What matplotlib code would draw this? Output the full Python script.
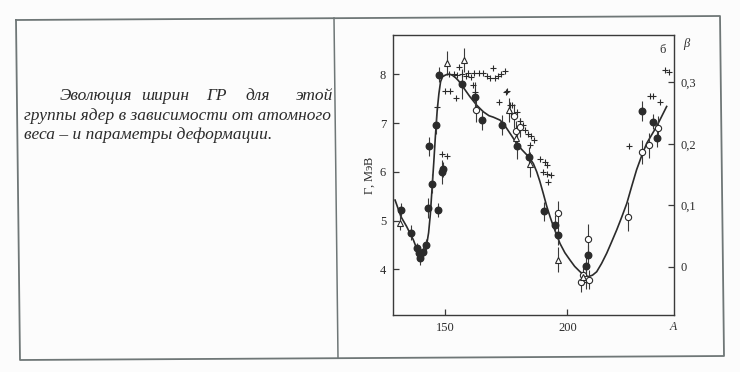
import matplotlib
matplotlib.use("Agg")
import matplotlib.pyplot as plt
from matplotlib.lines import Line2D

plt.rcParams["mathtext.fontset"] = "custom"
plt.rcParams["mathtext.rm"] = "Liberation Serif"
plt.rcParams["mathtext.it"] = "Liberation Serif:italic"

# ---------------- data ----------------
curve_A = [129.6, 132, 134.3, 137.1, 139, 140.2, 141.3, 142.5, 143.3, 144, 144.7, 145.4,
           146.1, 146.8, 147.5, 148.2, 149, 150, 151, 152, 153, 154.1, 155.5, 156.8,
           158.5, 160.2, 162.9, 165.7, 168, 169.8, 172.5, 174, 175.5, 177.5, 179.3,
           181.5, 183.4, 185, 186.1, 187.5, 188.8, 190.2, 191.6, 193, 194.3, 195.7,
           197, 199, 201.1, 203, 205.2, 207, 208.6, 210.3, 212, 214, 216.1, 218,
           220.2, 222.3, 224.3, 226.3, 228.3, 230.4, 232.4, 234.5, 236.5, 238.5, 240.6]
curve_G = [5.42, 5.08, 4.88, 4.6, 4.35, 4.24, 4.28, 4.5, 4.75, 5.12, 5.65, 6.18,
           6.75, 7.25, 7.6, 7.85, 7.95, 7.98, 8.0, 8.0, 7.98, 7.94, 7.87, 7.78,
           7.66, 7.54, 7.37, 7.23, 7.15, 7.12, 7.06, 6.98, 6.87, 6.72, 6.58,
           6.45, 6.35, 6.25, 6.17, 6.0, 5.8, 5.55, 5.29, 5.07, 4.88, 4.7,
           4.53, 4.34, 4.19, 4.06, 3.95, 3.88, 3.85, 3.88, 3.95, 4.12, 4.33, 4.55,
           4.81, 5.08, 5.35, 5.7, 6.04, 6.33, 6.58, 6.76, 6.93, 7.13, 7.34]

filled_A = [132.0, 136.1, 138.4, 139.2, 139.9, 141.1, 142.1, 142.9, 143.5, 144.7, 146.5,
            147.0, 147.7, 148.6, 149.2, 156.8, 162.3, 165.3, 173.4, 179.3, 184.5, 190.6,
            195.0, 196.1, 207.5, 208.6, 230.7, 235.1, 236.5]
filled_G = [5.22, 4.75, 4.43, 4.34, 4.23, 4.36, 4.50, 5.26, 6.52, 5.76, 6.97,
            5.22, 7.99, 6.00, 6.05, 7.80, 7.54, 7.06, 6.96, 6.52, 6.31, 5.19,
            4.91, 4.70, 4.07, 4.29, 7.25, 7.03, 6.70]
filled_err = [0.15, 0.15, 0.12, 0.12, 0.15, 0.12, 0.12, 0.2, 0.2, 0.2, 0.2,
              0.15, 0.15, 0.25, 0.15, 0.3, 0.3, 0.2, 0.2, 0.25, 0.2, 0.2,
              0.2, 0.2, 0.2, 0.2, 0.2, 0.15, 0.2]

open_A = [162.7, 178.2, 179.0, 180.8, 196.1, 208.6, 205.5, 206.5, 207.6, 208.9,
          224.9, 230.4, 233.4, 237.2]
open_G = [7.27, 7.15, 6.84, 6.91, 5.16, 4.62, 3.74, 3.88, 3.80, 3.79,
          5.08, 6.40, 6.54, 6.90]
open_err = [0.25, 0.25, 0.2, 0.2, 0.25, 0.3, 0.2, 0.2, 0.2, 0.2,
            0.3, 0.25, 0.25, 0.25]

tri_A = [131.6, 151.0, 157.9, 176.3, 179.0, 184.6, 196.3, 206.5]
tri_G = [4.96, 8.23, 8.29, 7.27, 6.69, 6.15, 4.20, 3.84]
tri_err = [0.15, 0.25, 0.25, 0.25, 0.2, 0.25, 0.25, 0.15]

cross_A = [146.9, 150.2, 152.0, 148.7, 150.7, 154.3, 155.7,
           151.5, 153.5, 155.0, 156.8, 158.5, 159.5, 160.8, 162.0, 163.8, 165.5,
           167.0, 168.5, 169.5, 170.5, 171.8, 173.0, 174.5,
           161.5, 162.2, 174.8, 175.5, 172.2, 176.5, 177.2, 176.8, 179.5,
           180.5, 181.8, 182.5, 183.8, 185.0, 186.3, 184.7, 188.8, 190.9, 191.6,
           190.2, 191.8, 193.2, 192.2, 225.3, 233.8, 235.2, 237.9, 240.0, 241.7]
cross_G = [7.33, 7.66, 7.66, 6.36, 6.32, 7.52, 8.15,
           8.0, 8.0, 7.98, 8.0, 7.97, 8.02, 7.95, 8.02, 8.02, 8.03,
           7.97, 7.93, 8.12, 7.93, 7.97, 8.0, 8.06,
           7.78, 7.64, 7.64, 7.66, 7.43, 7.37, 7.37, 7.2, 7.22,
           7.05, 6.95, 6.85, 6.78, 6.74, 6.65, 6.55, 6.26, 6.21, 6.14,
           6.0, 5.95, 5.93, 5.8, 6.52, 7.55, 7.56, 7.44, 8.08, 8.05]

left_ticks = [4, 5, 6, 7, 8]
bottom_ticks = [150, 200]
beta_ticks = [0, 0.1, 0.2, 0.3]
beta_labels = ["0", "0,1", "0,2", "0,3"]

line1_words = ["Эволюция", "ширин", "ГР", "для", "этой"]
line2 = "группы ядер в зависимости от атомного"
line3 = "веса – и параметры деформации."

# ---------------- figure ----------------
W, H = 740, 372
fig = plt.figure(figsize=(W / 100, H / 100), dpi=100)
fig.patch.set_facecolor("#fcfcfc")
serif = ["Liberation Serif", "DejaVu Serif"]
ink = "#2b2b2b"

def fx(x):
    return x / W

def fy(y):
    return 1 - y / H

# outer frame and divider
frame_c = "#6f7777"
corners = [(16, 20), (720, 16), (724, 356), (20, 360), (16, 20)]
fig.add_artist(Line2D([fx(p[0]) for p in corners], [fy(p[1]) for p in corners],
                      color=frame_c, lw=1.3, transform=fig.transFigure))
fig.add_artist(Line2D([fx(334), fx(338)], [fy(18), fy(358)],
                      color=frame_c, lw=1.1, transform=fig.transFigure))

# paragraph text
probe = fig.text(fx(24), fy(116), line2, fontsize=10, family=serif, style="italic")
fig.canvas.draw()
w = probe.get_window_extent().width
fs = 10 * 306 / w
probe.remove()

word_x = [60, 141, 206, 245, 296]
for wd, x in zip(line1_words, word_x):
    fig.text(fx(x), fy(96), wd, fontsize=fs, family=serif, style="italic",
             color=ink, va="center", ha="left")
fig.text(fx(24), fy(116), line2, fontsize=fs, family=serif, style="italic",
         color=ink, va="center", ha="left")
fig.text(fx(24), fy(135), line3, fontsize=fs, family=serif, style="italic",
         color=ink, va="center", ha="left")

# chart axes
ax = fig.add_axes([fx(393), fy(315), (674 - 393) / W, (315 - 35) / H])
ax.set_facecolor("none")
ax.set_xlim(128.75, 243.6)
ax.set_ylim(3.063, 8.806)
for s in ax.spines.values():
    s.set_color("#3a3a3a")
    s.set_linewidth(1.0)

ax.plot(curve_A, curve_G, color=ink, lw=1.2, zorder=3)

eb_kw = dict(ecolor="#3a3a3a", elinewidth=0.8, capsize=0, linestyle="none", zorder=4)
ax.errorbar(filled_A, filled_G, yerr=filled_err, fmt="o", ms=4.7,
            mfc=ink, mec=ink, **eb_kw)
ax.errorbar(open_A, open_G, yerr=open_err, fmt="o", ms=4.5,
            mfc="white", mec=ink, mew=0.8, **eb_kw)
ax.errorbar(tri_A, tri_G, yerr=tri_err, fmt="^", ms=4.6,
            mfc="white", mec=ink, mew=0.8, **eb_kw)
ax.plot(cross_A, cross_G, "+", ms=5.0, mew=0.8, color=ink, linestyle="none", zorder=4)

ax.set_xticks(bottom_ticks)
ax.set_yticks(left_ticks)
ax.tick_params(axis="both", direction="in", length=4, width=0.9, color="#3a3a3a",
               labelsize=9, labelcolor=ink, pad=5)
for lab in ax.get_xticklabels() + ax.get_yticklabels():
    lab.set_family(serif)
ax.set_ylabel(r"$\mathit{Γ}$, МэВ", family=serif, fontsize=9, color=ink, labelpad=2)

# beta axis
ax2 = ax.twinx()
ax2.set_ylim(-0.0786, 0.377)
ax2.set_yticks(beta_ticks)
ax2.set_yticklabels(beta_labels)
ax2.tick_params(axis="y", direction="in", length=4, width=0.9, color="#3a3a3a",
                labelsize=9, labelcolor=ink, pad=5)
for lab in ax2.get_yticklabels():
    lab.set_family(serif)
for s in ax2.spines.values():
    s.set_visible(False)

fig.text(fx(683), fy(44), "β", family=serif, style="italic", fontsize=9,
         color=ink, ha="left", va="center")
fig.text(fx(663), fy(50), "б", family=serif, fontsize=9, color=ink,
         ha="center", va="center")
fig.text(fx(673), fy(327), "A", family=serif, style="italic", fontsize=8.5,
         color=ink, ha="center", va="center")

fig.savefig("out.png", dpi=100, facecolor=fig.get_facecolor())
